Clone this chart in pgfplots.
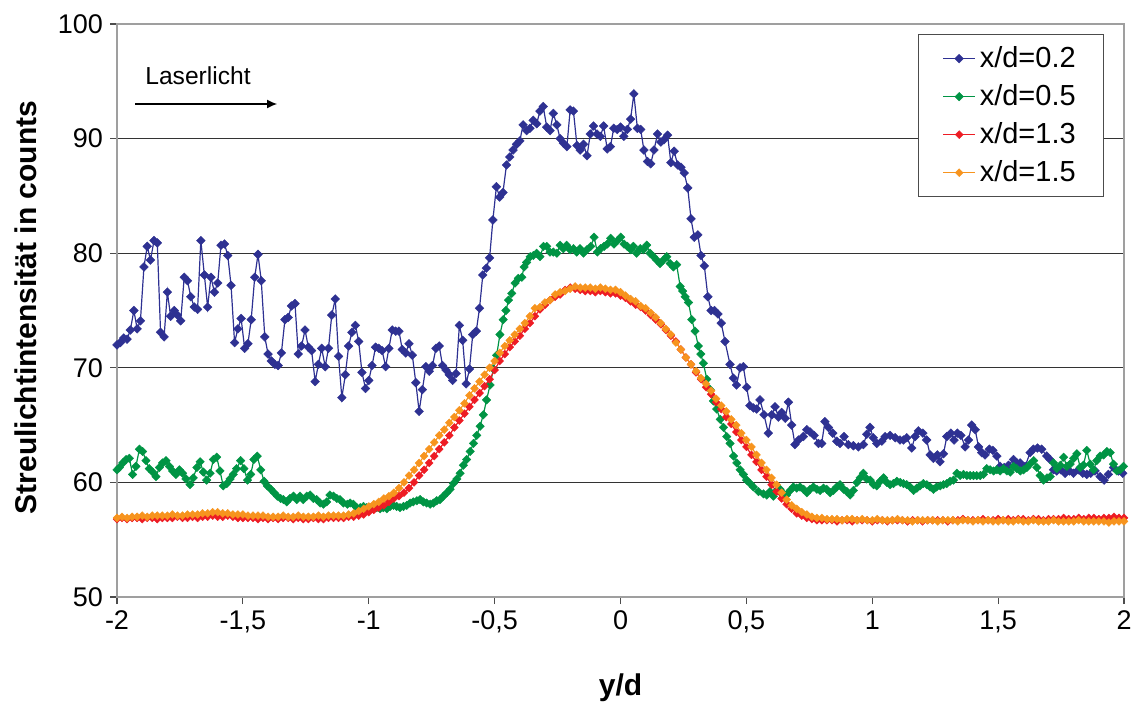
\documentclass[border=0pt]{standalone}
\usepackage{fontspec}
\setmainfont{Liberation Sans}
\usepackage{pgfplots}
\pgfplotsset{compat=1.18}
\usetikzlibrary{arrows.meta}
\definecolor{cblue}{RGB}{46,49,146}
\definecolor{cgreen}{RGB}{0,148,68}
\definecolor{cred}{RGB}{237,28,36}
\definecolor{corange}{RGB}{247,148,30}
\begin{document}
\begin{tikzpicture}
\begin{axis}[
  scale only axis, width=503.5pt, height=286.5pt,
  xmin=-2, xmax=2, ymin=50, ymax=100,
  xtick={-2,-1.5,-1,-0.5,0,0.5,1,1.5,2},
  xticklabels={{-2},{-1,5},{-1},{-0,5},{0},{0,5},{1},{1,5},{2}},
  ytick={50,60,70,80,90,100},
  yticklabels={50,60,70,80,90,100},
  ymajorgrids, grid style={gray!40!black, line width=0.6pt},
  axis line style={gray!75, line width=0.8pt},
  tick style={gray!60!black, line width=0.6pt},
  tick align=outside, major tick length=3.5pt,
  xtick pos=left, ytick pos=left,
  tick label style={font=\fontsize{13.5}{16}\selectfont, black},
  xlabel={y/d}, ylabel={Streulichtintensität in counts},
  label style={font=\bfseries\fontsize{15}{18}\selectfont},
  xlabel style={at={(rel axis cs:0.5,-0.1588)}, anchor=center},
  ylabel style={at={(rel axis cs:-0.0904,0.505)}, anchor=center},
  legend style={at={(rel axis cs:0.7954,0.9825)}, anchor=north west,
    draw=gray!60!black, line width=0.6pt, font=\fontsize{14.5}{17}\selectfont,
    inner xsep=12pt, inner ysep=4pt, row sep=3pt},
  legend cell align=left,
  legend image code/.code={\draw[#1, mark repeat=2, mark phase=2] plot coordinates {(0pt,0pt) (8pt,0pt) (16pt,0pt)};},
]
\addplot[cblue, line width=0.6pt, mark=square*, mark size=1.55pt, mark options={rotate=45, fill=cblue, draw=cblue, line width=0.2pt}] coordinates {
(-2.000,72.0) (-1.987,72.2) (-1.973,72.6) (-1.960,72.5) (-1.947,73.3) (-1.933,75.0) (-1.920,73.4) (-1.907,74.1) (-1.893,78.8) (-1.880,80.6) (-1.867,79.4) (-1.853,81.1) (-1.840,80.9) (-1.827,73.1) (-1.813,72.7) (-1.800,76.6) (-1.787,74.5) (-1.773,75.0) (-1.760,74.6) (-1.747,74.1) (-1.733,77.9) (-1.720,77.6) (-1.707,76.2) (-1.693,75.3) (-1.680,75.1) (-1.667,81.1) (-1.653,78.1) (-1.640,75.3) (-1.627,77.9) (-1.613,76.6) (-1.600,77.4) (-1.587,80.7) (-1.573,80.8) (-1.560,79.8) (-1.547,77.2) (-1.533,72.2) (-1.520,73.4) (-1.507,74.3) (-1.493,71.7) (-1.480,72.1) (-1.467,74.2) (-1.453,77.9) (-1.440,79.9) (-1.427,77.6) (-1.413,72.7) (-1.400,71.2) (-1.387,70.6) (-1.373,70.3) (-1.360,70.2) (-1.347,71.3) (-1.333,74.2) (-1.320,74.4) (-1.307,75.4) (-1.293,75.6) (-1.280,71.2) (-1.267,71.9) (-1.253,73.3) (-1.240,71.8) (-1.227,71.5) (-1.213,68.8) (-1.200,70.3) (-1.187,71.7) (-1.173,70.1) (-1.160,71.7) (-1.147,74.6) (-1.133,76.0) (-1.120,71.0) (-1.107,67.4) (-1.093,69.4) (-1.080,71.9) (-1.067,73.1) (-1.053,73.7) (-1.040,72.3) (-1.027,69.6) (-1.013,68.2) (-1.000,68.9) (-0.987,70.2) (-0.973,71.8) (-0.960,71.7) (-0.947,71.5) (-0.933,70.1) (-0.920,71.7) (-0.907,73.3) (-0.893,73.2) (-0.880,73.2) (-0.867,71.6) (-0.853,71.3) (-0.840,72.1) (-0.827,71.1) (-0.813,68.7) (-0.800,66.2) (-0.787,68.1) (-0.773,70.1) (-0.760,69.7) (-0.747,70.2) (-0.733,71.7) (-0.720,71.9) (-0.707,70.2) (-0.693,69.8) (-0.680,69.4) (-0.667,68.9) (-0.653,69.5) (-0.640,73.7) (-0.627,72.4) (-0.613,68.6) (-0.600,69.9) (-0.587,72.9) (-0.573,73.2) (-0.560,75.2) (-0.547,78.1) (-0.533,78.7) (-0.520,79.6) (-0.507,82.9) (-0.493,85.8) (-0.480,84.9) (-0.467,85.3) (-0.453,87.7) (-0.440,88.4) (-0.427,89.0) (-0.413,89.5) (-0.400,89.8) (-0.387,91.2) (-0.373,90.7) (-0.360,90.9) (-0.347,91.6) (-0.333,91.3) (-0.320,92.4) (-0.307,92.8) (-0.293,91.0) (-0.280,90.7) (-0.267,92.2) (-0.253,91.2) (-0.240,90.0) (-0.227,89.6) (-0.213,89.3) (-0.200,92.5) (-0.187,92.4) (-0.173,89.4) (-0.160,89.0) (-0.147,89.5) (-0.133,88.5) (-0.120,90.4) (-0.107,91.1) (-0.093,90.4) (-0.080,90.2) (-0.067,91.1) (-0.053,89.1) (-0.040,89.3) (-0.027,90.9) (-0.013,90.8) (0.000,91.0) (0.013,90.2) (0.027,90.8) (0.040,91.7) (0.053,93.9) (0.067,90.9) (0.080,90.8) (0.093,89.0) (0.107,88.0) (0.120,87.8) (0.133,89.0) (0.147,90.4) (0.160,89.7) (0.173,89.9) (0.187,90.3) (0.200,87.9) (0.213,88.9) (0.227,87.7) (0.240,87.5) (0.253,87.0) (0.267,85.7) (0.280,83.0) (0.293,81.4) (0.307,81.6) (0.320,79.8) (0.333,78.9) (0.347,76.2) (0.360,75.0) (0.373,75.0) (0.387,74.7) (0.400,73.9)
(0.415,72.3) (0.435,70.3) (0.448,69.1) (0.461,68.5) (0.475,70.0) (0.488,70.1) (0.501,68.3) (0.514,66.7) (0.528,66.5) (0.541,66.4) (0.554,67.2) (0.570,65.9) (0.587,64.3) (0.601,65.9) (0.614,66.6) (0.627,65.7) (0.640,66.1) (0.654,65.6) (0.667,67.0) (0.680,65.0) (0.693,63.3) (0.707,63.7) (0.726,64.0) (0.740,64.6) (0.753,64.4) (0.769,64.1) (0.786,63.4) (0.799,63.4) (0.812,65.3) (0.826,64.8) (0.843,64.3) (0.859,63.6) (0.872,63.4) (0.888,64.0) (0.905,63.3) (0.925,63.2) (0.945,63.1) (0.965,63.3) (0.978,64.2) (0.991,64.8) (1.004,63.9) (1.018,63.4) (1.038,63.6) (1.051,64.0) (1.071,64.1) (1.091,63.9) (1.110,63.7) (1.124,63.7) (1.137,63.9) (1.157,63.0) (1.170,64.0) (1.183,64.5) (1.201,64.3) (1.216,63.7) (1.230,62.4) (1.243,62.1) (1.259,62.4) (1.269,61.8) (1.283,62.5) (1.296,64.0) (1.312,64.3) (1.325,63.7) (1.338,64.3) (1.352,64.1) (1.369,63.1) (1.382,63.7) (1.395,65.0) (1.409,64.6) (1.422,63.1) (1.435,62.6) (1.448,62.4) (1.465,62.9) (1.479,62.8) (1.495,62.3) (1.508,61.4) (1.524,61.3) (1.541,61.5) (1.561,62.0) (1.574,61.7) (1.587,61.7) (1.607,61.4) (1.627,62.6) (1.640,62.9) (1.656,63.0) (1.673,62.9) (1.693,62.3) (1.706,62.0) (1.720,61.1) (1.733,61.0) (1.749,61.1) (1.766,60.8) (1.783,61.0) (1.799,60.8) (1.819,61.1) (1.836,60.8) (1.852,60.7) (1.868,60.8) (1.885,61.0) (1.905,60.5) (1.921,60.2) (1.938,60.7) (1.958,61.3) (1.978,61.0) (1.995,60.8) (2.010,61.0)
};
\addlegendentry{x/d=0.2}
\addplot[cgreen, line width=0.6pt, mark=square*, mark size=1.5pt, mark options={rotate=45, fill=cgreen, draw=cgreen, line width=0.2pt}] coordinates {
(-2.000,61.1) (-1.991,61.3) (-1.977,61.7) (-1.964,62.0) (-1.951,62.1) (-1.938,60.7) (-1.925,61.4) (-1.911,62.9) (-1.898,62.7) (-1.885,61.9) (-1.872,61.2) (-1.858,60.9) (-1.845,60.5) (-1.832,61.3) (-1.819,61.7) (-1.805,61.9) (-1.792,61.4) (-1.779,61.0) (-1.766,60.7) (-1.752,61.1) (-1.739,60.8) (-1.726,60.3) (-1.710,59.8) (-1.697,60.4) (-1.683,61.3) (-1.670,61.8) (-1.657,60.9) (-1.644,60.2) (-1.630,60.8) (-1.617,62.0) (-1.604,62.2) (-1.591,61.0) (-1.578,59.7) (-1.564,59.9) (-1.551,60.3) (-1.538,60.7) (-1.525,61.2) (-1.509,61.9) (-1.496,61.2) (-1.482,60.2) (-1.469,60.7) (-1.456,62.0) (-1.443,62.3) (-1.429,61.1) (-1.416,60.1) (-1.403,59.7) (-1.389,59.4) (-1.376,59.1) (-1.363,58.8) (-1.350,58.6) (-1.339,58.5) (-1.326,58.3) (-1.313,58.6) (-1.299,58.8) (-1.286,58.5) (-1.273,58.8) (-1.260,58.5) (-1.246,58.8) (-1.233,58.9) (-1.220,58.6) (-1.207,58.5) (-1.193,58.2) (-1.180,58.1) (-1.167,58.3) (-1.154,58.9) (-1.140,58.8) (-1.127,58.6) (-1.114,58.5) (-1.101,58.2) (-1.085,58.1) (-1.074,58.2) (-1.061,58.1) (-1.048,57.8) (-1.034,57.8) (-1.021,57.9) (-1.008,57.8) (-0.995,57.8) (-0.982,57.7) (-0.968,57.8) (-0.955,57.7) (-0.942,57.8) (-0.928,57.7) (-0.915,57.9) (-0.902,58.0) (-0.889,57.9) (-0.876,57.8) (-0.862,57.9) (-0.849,58.0) (-0.836,58.2) (-0.823,58.3) (-0.809,58.4) (-0.796,58.5) (-0.783,58.3) (-0.770,58.2) (-0.756,58.1) (-0.743,58.2) (-0.730,58.4) (-0.717,58.5) (-0.703,58.8) (-0.690,59.1) (-0.677,59.4) (-0.664,59.9) (-0.650,60.3) (-0.637,60.8) (-0.624,61.5) (-0.611,62.0) (-0.597,62.7) (-0.584,63.4) (-0.571,64.1) (-0.558,64.9) (-0.545,65.9) (-0.532,67.2) (-0.518,68.5) (-0.505,69.9) (-0.492,71.1) (-0.479,72.9) (-0.466,74.2) (-0.455,75.0) (-0.445,75.9) (-0.432,76.5) (-0.419,77.4) (-0.406,77.8) (-0.392,77.9) (-0.383,78.8) (-0.373,79.2) (-0.359,79.7) (-0.346,79.8) (-0.333,80.0) (-0.320,79.7) (-0.306,80.6) (-0.293,80.6) (-0.280,80.1) (-0.267,80.1) (-0.253,80.0) (-0.240,80.7) (-0.227,80.4) (-0.214,80.7) (-0.200,80.3) (-0.187,80.4) (-0.174,80.1) (-0.161,80.4) (-0.147,80.0) (-0.134,80.3) (-0.118,80.6) (-0.105,81.4) (-0.092,80.1) (-0.079,80.4) (-0.065,80.6) (-0.052,80.8) (-0.039,81.3) (-0.026,80.8) (-0.012,81.1) (0.001,81.4) (0.014,80.8) (0.027,80.6) (0.041,80.3) (0.051,80.6) (0.064,80.0) (0.078,80.4) (0.091,80.3) (0.104,80.7) (0.117,80.0) (0.131,79.7) (0.144,79.4) (0.157,79.1) (0.170,79.4) (0.184,79.7) (0.197,79.1) (0.210,78.8) (0.223,79.0) (0.237,77.1) (0.247,76.7) (0.257,76.2) (0.270,75.7) (0.283,74.2) (0.296,73.2) (0.309,71.9) (0.319,71.2) (0.329,70.4) (0.343,69.0) (0.356,68.1) (0.369,67.1) (0.382,66.4) (0.396,65.5) (0.409,64.8) (0.422,64.0) (0.435,63.4) (0.449,62.3) (0.462,61.7) (0.475,61.1) (0.488,60.7) (0.501,60.2) (0.515,59.9) (0.528,59.6) (0.548,59.2)
(0.568,59.0) (0.581,58.9) (0.594,59.2) (0.607,58.8) (0.621,59.3) (0.634,59.4) (0.647,59.0) (0.660,58.9) (0.674,59.3) (0.687,59.6) (0.700,59.5) (0.713,59.6) (0.727,59.4) (0.740,59.1) (0.753,59.4) (0.766,59.6) (0.780,59.4) (0.793,59.3) (0.806,59.5) (0.819,59.4) (0.833,59.1) (0.846,59.3) (0.859,59.6) (0.872,59.8) (0.886,59.4) (0.899,59.2) (0.912,58.9) (0.925,59.3) (0.939,60.0) (0.952,60.4) (0.965,60.8) (0.978,60.3) (0.992,60.2) (1.005,59.8) (1.018,59.7) (1.031,60.1) (1.045,60.4) (1.058,60.0) (1.071,59.8) (1.084,59.9) (1.098,60.1) (1.111,60.0) (1.124,59.9) (1.137,59.8) (1.150,59.6) (1.164,59.3) (1.177,59.5) (1.190,59.7) (1.203,59.9) (1.217,59.8) (1.230,59.6) (1.243,59.4) (1.256,59.6) (1.270,59.7) (1.283,59.8) (1.296,59.9) (1.309,60.1) (1.323,60.2) (1.336,60.8) (1.349,60.6) (1.362,60.7) (1.376,60.6) (1.389,60.6) (1.402,60.6) (1.415,60.6) (1.429,60.6) (1.442,60.7) (1.455,61.2) (1.468,61.1) (1.482,61.0) (1.495,61.1) (1.508,61.0) (1.521,61.2) (1.535,61.0) (1.548,60.9) (1.561,61.4) (1.574,61.2) (1.588,61.0) (1.601,61.1) (1.614,61.3) (1.627,61.6) (1.641,61.9) (1.654,61.3) (1.667,60.6) (1.680,60.2) (1.694,60.4) (1.707,60.5) (1.720,61.7) (1.733,61.2) (1.747,61.5) (1.760,62.2) (1.773,61.4) (1.786,61.6) (1.800,62.1) (1.813,62.5) (1.826,61.3) (1.839,61.5) (1.852,62.8) (1.866,61.6) (1.879,61.1) (1.892,61.9) (1.905,62.3) (1.919,62.4) (1.932,62.7) (1.945,62.6) (1.958,61.6) (1.972,61.0) (1.985,61.1) (1.998,61.4) (2.015,62.2)
};
\addlegendentry{x/d=0.5}
\addplot[cred, line width=0.6pt, mark=square*, mark size=1.4pt, mark options={rotate=45, fill=cred, draw=cred, line width=0.2pt}] coordinates {
(-2.00,56.8) (-1.98,56.9) (-1.96,56.8) (-1.94,56.9) (-1.92,56.9) (-1.90,56.8) (-1.88,56.9) (-1.86,56.9) (-1.84,56.8) (-1.82,56.9) (-1.80,56.9) (-1.78,56.9) (-1.76,57.0) (-1.74,56.9) (-1.72,56.9) (-1.70,57.0) (-1.68,56.9) (-1.66,57.0) (-1.64,57.0) (-1.62,57.1) (-1.60,57.0) (-1.58,57.0) (-1.56,57.1) (-1.54,57.0) (-1.52,56.9) (-1.50,56.9) (-1.48,56.9) (-1.46,56.9) (-1.44,56.8) (-1.42,56.9) (-1.40,56.8) (-1.38,56.9) (-1.36,56.8) (-1.34,56.9) (-1.32,56.9) (-1.30,56.8) (-1.28,56.9) (-1.26,56.8) (-1.24,56.8) (-1.22,56.9) (-1.20,56.8) (-1.18,56.8) (-1.16,56.9) (-1.14,56.9) (-1.12,56.9) (-1.10,56.9) (-1.08,57.0) (-1.06,57.0)
(-1.04,57.1) (-1.02,57.2) (-1.00,57.4) (-0.98,57.6) (-0.96,57.8) (-0.94,58.0) (-0.92,58.3) (-0.90,58.6) (-0.88,58.8) (-0.86,59.1) (-0.84,59.5) (-0.82,60.0) (-0.80,60.6) (-0.78,61.1) (-0.76,61.7) (-0.74,62.3) (-0.72,62.9) (-0.70,63.5) (-0.68,64.1) (-0.66,64.8) (-0.64,65.4) (-0.62,66.0) (-0.60,66.6) (-0.58,67.2) (-0.56,67.8) (-0.54,68.4) (-0.52,69.0) (-0.50,69.8) (-0.48,70.6) (-0.46,71.2) (-0.44,71.8) (-0.42,72.3) (-0.40,72.8) (-0.38,73.4) (-0.36,73.9) (-0.34,74.5) (-0.32,75.1) (-0.30,75.5) (-0.28,75.9) (-0.26,76.2) (-0.24,76.4) (-0.22,76.8) (-0.20,77.0) (-0.18,76.9) (-0.16,76.8) (-0.14,76.7) (-0.12,76.7) (-0.10,76.6) (-0.08,76.7) (-0.06,76.6) (-0.04,76.5) (-0.02,76.5) (0.00,76.3) (0.02,76.1) (0.04,75.8) (0.06,75.5) (0.08,75.3) (0.10,75.0) (0.12,74.6) (0.14,74.2) (0.16,73.8) (0.18,73.3) (0.20,72.8) (0.22,72.3) (0.24,71.6) (0.26,70.9) (0.28,70.3) (0.30,69.6) (0.32,69.0) (0.34,68.3) (0.36,67.7) (0.38,67.0) (0.40,66.4) (0.42,65.7) (0.44,65.1) (0.46,64.4) (0.48,63.7) (0.50,63.1) (0.52,62.4) (0.54,61.8) (0.56,61.1) (0.58,60.5) (0.60,59.8) (0.62,59.2) (0.64,58.6) (0.66,58.1) (0.68,57.7) (0.70,57.3) (0.72,57.1) (0.74,56.9) (0.76,56.8) (0.78,56.7) (0.80,56.7)
(0.82,56.7) (0.84,56.7) (0.86,56.6) (0.88,56.7) (0.90,56.7) (0.92,56.6) (0.94,56.7) (0.96,56.7) (0.98,56.7) (1.00,56.6) (1.02,56.7) (1.04,56.7) (1.06,56.6) (1.08,56.7) (1.10,56.7) (1.12,56.7) (1.14,56.6) (1.16,56.7) (1.18,56.7) (1.20,56.6) (1.22,56.7) (1.24,56.7) (1.26,56.7) (1.28,56.7) (1.30,56.6) (1.32,56.7) (1.34,56.7) (1.36,56.8) (1.38,56.7) (1.40,56.7) (1.42,56.7) (1.44,56.8) (1.46,56.7) (1.48,56.7) (1.50,56.8) (1.52,56.7) (1.54,56.8) (1.56,56.7) (1.58,56.8) (1.60,56.8) (1.62,56.7) (1.64,56.8) (1.66,56.8) (1.68,56.7) (1.70,56.8) (1.72,56.8) (1.74,56.8) (1.76,56.9) (1.78,56.8) (1.80,56.8) (1.82,56.9) (1.84,56.8) (1.86,56.9) (1.88,56.9) (1.90,56.8) (1.92,56.9) (1.94,56.9) (1.96,57.0) (1.98,56.9) (2.00,56.9)
};
\addlegendentry{x/d=1.3}
\addplot[corange, line width=0.6pt, mark=square*, mark size=1.4pt, mark options={rotate=45, fill=corange, draw=corange, line width=0.2pt}] coordinates {
(-2.00,56.9) (-1.98,57.0) (-1.96,56.9) (-1.94,57.0) (-1.92,57.0) (-1.90,57.1) (-1.88,57.0) (-1.86,57.1) (-1.84,57.1) (-1.82,57.1) (-1.80,57.1) (-1.78,57.2) (-1.76,57.1) (-1.74,57.1) (-1.72,57.2) (-1.70,57.2) (-1.68,57.2) (-1.66,57.3) (-1.64,57.3) (-1.62,57.4) (-1.60,57.4) (-1.58,57.3) (-1.56,57.3) (-1.54,57.2) (-1.52,57.2) (-1.50,57.2) (-1.48,57.1) (-1.46,57.1) (-1.44,57.1) (-1.42,57.1) (-1.40,57.0) (-1.38,57.0) (-1.36,57.0) (-1.34,57.1) (-1.32,57.0) (-1.30,57.0) (-1.28,57.1) (-1.26,57.0) (-1.24,57.0) (-1.22,57.0) (-1.20,57.1) (-1.18,57.0) (-1.16,57.1) (-1.14,57.1) (-1.12,57.1)
(-1.10,57.1) (-1.08,57.2) (-1.06,57.3) (-1.04,57.5) (-1.02,57.7) (-1.00,57.9) (-0.98,58.1) (-0.96,58.3) (-0.94,58.6) (-0.92,58.8) (-0.90,59.1) (-0.88,59.5) (-0.86,60.0) (-0.84,60.6) (-0.82,61.1) (-0.80,61.7) (-0.78,62.3) (-0.76,62.9) (-0.74,63.5) (-0.72,64.1) (-0.70,64.6) (-0.68,65.2) (-0.66,65.7) (-0.64,66.3) (-0.62,66.9) (-0.60,67.6) (-0.58,68.2) (-0.56,68.8) (-0.54,69.4) (-0.52,70.0) (-0.50,70.6) (-0.48,71.3) (-0.46,71.9) (-0.44,72.4) (-0.42,72.9) (-0.40,73.4) (-0.38,73.9) (-0.36,74.5) (-0.34,75.2) (-0.32,75.3) (-0.30,75.7) (-0.28,75.9) (-0.26,76.4) (-0.24,76.6) (-0.22,76.7) (-0.20,76.9) (-0.18,77.1) (-0.16,77.0) (-0.14,77.0) (-0.12,77.0) (-0.10,76.9) (-0.08,77.0) (-0.06,76.9) (-0.04,76.8) (-0.02,76.8) (0.00,76.6) (0.02,76.3) (0.04,76.0) (0.06,75.8) (0.08,75.4) (0.10,75.2) (0.12,74.8) (0.14,74.4) (0.16,73.9) (0.18,73.4) (0.20,72.9) (0.22,72.2) (0.24,71.6) (0.26,70.9) (0.28,70.3) (0.30,69.7) (0.32,69.1) (0.34,68.6) (0.36,68.0) (0.38,67.3) (0.40,66.7) (0.42,66.2) (0.44,65.5) (0.46,65.0) (0.48,64.3) (0.50,63.7) (0.52,63.1) (0.54,62.4) (0.56,61.7) (0.58,61.1) (0.60,60.4) (0.62,59.8) (0.64,59.1) (0.66,58.5) (0.68,58.0) (0.70,57.7) (0.72,57.4) (0.74,57.2) (0.76,57.0) (0.78,56.9) (0.80,56.9) (0.82,56.8)
(0.84,56.8) (0.86,56.8) (0.88,56.7) (0.90,56.8) (0.92,56.8) (0.94,56.7) (0.96,56.8) (0.98,56.7) (1.00,56.7) (1.02,56.8) (1.04,56.7) (1.06,56.7) (1.08,56.7) (1.10,56.8) (1.12,56.7) (1.14,56.7) (1.16,56.6) (1.18,56.7) (1.20,56.7) (1.22,56.7) (1.24,56.7) (1.26,56.6) (1.28,56.7) (1.30,56.7) (1.32,56.7) (1.34,56.6) (1.36,56.7) (1.38,56.7) (1.40,56.6) (1.42,56.7) (1.44,56.6) (1.46,56.7) (1.48,56.6) (1.50,56.6) (1.52,56.7) (1.54,56.6) (1.56,56.6) (1.58,56.7) (1.60,56.6) (1.62,56.6) (1.64,56.7) (1.66,56.6) (1.68,56.6) (1.70,56.6) (1.72,56.7) (1.74,56.6) (1.76,56.6) (1.78,56.6) (1.80,56.6) (1.82,56.7) (1.84,56.6) (1.86,56.6) (1.88,56.6) (1.90,56.6) (1.92,56.6) (1.94,56.5) (1.96,56.6) (1.98,56.6) (2.00,56.6)
};
\addlegendentry{x/d=1.5}
\node[anchor=west, font=\fontsize{12.3}{15}\selectfont, inner sep=0pt] at (axis cs:-1.889,95.46) {Laserlicht};
\draw[black, line width=0.7pt, -{Latex[length=5pt, width=4.5pt]}] (axis cs:-1.928,93.02) -- (axis cs:-1.364,93.02);
\coordinate (bbsw) at (rel axis cs:-0.1162,-0.1832);
\coordinate (bbne) at (rel axis cs:1.0139,1.0419);
\end{axis}
\pgfresetboundingbox
\path[use as bounding box] (bbsw) rectangle (bbne);
\end{tikzpicture}
\end{document}
